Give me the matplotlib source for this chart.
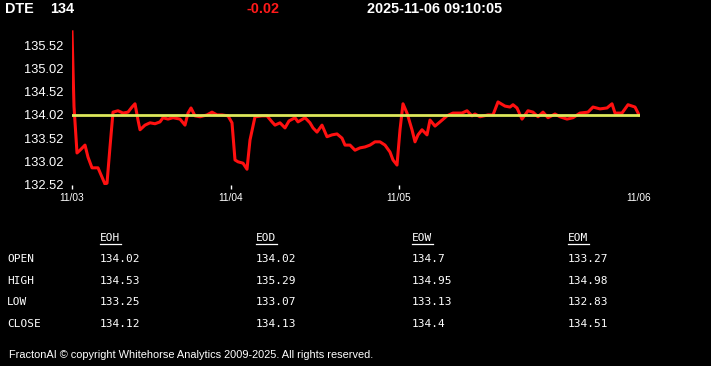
import matplotlib.pyplot as plt
from matplotlib.lines import Line2D

# Price trace (x = position along the session axis, 11/03 = 0, 11/06 = 567)
pos = [0, 2, 5, 8, 13, 16, 20, 26, 30, 33, 35, 38, 41, 46, 51, 56, 60, 63, 66, 68,
       73, 78, 83, 88, 91, 96, 101, 108, 113, 116, 119, 123, 128, 135, 140, 145,
       150, 156, 160, 163, 166, 171, 175, 178, 183, 190, 195, 200, 203, 208, 213,
       217, 223, 226, 233, 238, 241, 245, 250, 255, 260, 265, 270, 273, 278, 283,
       288, 293, 298, 303, 308, 313, 318, 321, 325, 328, 331, 335, 340, 343, 346,
       350, 355, 358, 363, 368, 375, 381, 390, 395, 400, 403, 408, 416, 421, 426,
       433, 438, 441, 445, 450, 456, 461, 466, 471, 476, 483, 488, 495, 501, 508,
       516, 521, 528, 535, 540, 543, 550, 556, 563, 567]
price = [135.81, 134.20, 133.20, 133.26, 133.37, 133.11, 132.88, 132.88, 132.68,
         132.53, 132.55, 133.33, 134.08, 134.11, 134.06, 134.08, 134.19, 134.26,
         133.91, 133.70, 133.80, 133.85, 133.83, 133.87, 133.96, 133.93, 133.96,
         133.93, 133.80, 134.06, 134.17, 134.00, 133.98, 134.02, 134.08, 134.02,
         134.02, 134.00, 133.85, 133.05, 133.01, 132.98, 132.85, 133.48, 133.98,
         134.00, 134.00, 133.87, 133.80, 133.85, 133.74, 133.89, 133.96, 133.87,
         133.96, 133.85, 133.74, 133.65, 133.80, 133.55, 133.59, 133.61, 133.52,
         133.37, 133.37, 133.26, 133.31, 133.33, 133.37, 133.44, 133.44, 133.37,
         133.22, 133.05, 132.94, 133.70, 134.26, 134.06, 133.70, 133.44, 133.59,
         133.70, 133.59, 133.91, 133.78, 133.87, 134.00, 134.06, 134.06, 134.11,
         134.00, 134.04, 133.98, 134.02, 134.02, 134.30, 134.21, 134.19, 134.24,
         134.17, 133.93, 134.11, 134.08, 133.98, 134.08, 133.96, 134.04, 133.98,
         133.93, 133.96, 134.06, 134.08, 134.19, 134.15, 134.17, 134.26, 134.06,
         134.06, 134.24, 134.19, 134.02]
ref_price = 134.02

day_pos = [0, 159, 326.5, 567]
day_labels = ['11/03', '11/04', '11/05', '11/06']
y_ticks = [132.52, 133.02, 133.52, 134.02, 134.52, 135.02, 135.52]

# Header
symbol = 'DTE'
last = '134'
change = '-0.02'
stamp = '2025-11-06 09:10:05'

# OHLC table
periods = ['EOH', 'EOD', 'EOW', 'EOM']
rows = ['OPEN', 'HIGH', 'LOW', 'CLOSE']
table = {
    'EOH': ['134.02', '134.53', '133.25', '134.12'],
    'EOD': ['134.02', '135.29', '133.07', '134.13'],
    'EOW': ['134.7', '134.95', '133.13', '134.4'],
    'EOM': ['133.27', '134.98', '132.83', '134.51'],
}

W, H = 711, 366
fig = plt.figure(figsize=(W / 100, H / 100), dpi=100, facecolor='black')

def fx(px):
    return px / W

def fy(py):
    return 1 - py / H

# Chart axes
ax = fig.add_axes([fx(72), fy(185), fx(640) - fx(72), fy(30) - fy(185)])
ax.set_facecolor('black')
ax.plot(pos, price, color='#ff1010', lw=2.2, solid_joinstyle='round')
ax.plot([0, 567], [ref_price, ref_price], color='#dde85a', lw=2)
ax.set_xlim(0, 568)
ax.set_ylim(132.51, 135.85)
ax.set_yticks(y_ticks)
ax.set_yticklabels(['%.2f' % v for v in y_ticks])
ax.set_xticks(day_pos)
ax.set_xticklabels(day_labels)
for s in ax.spines.values():
    s.set_visible(False)
ax.tick_params(axis='y', length=0, pad=6, labelcolor='white', labelsize=9.3)
ax.tick_params(axis='x', length=3, width=1, color='white', pad=3,
               labelcolor='white', labelsize=7.3)
for lab in ax.get_yticklabels() + ax.get_xticklabels():
    lab.set_family('Liberation Sans')
ax.xaxis.get_major_ticks()[-1].tick1line.set_visible(False)

# Header text
hdr = dict(color='white', fontsize=10.4, fontweight='bold', family='Liberation Sans', va='center')
fig.text(fx(5), fy(9), symbol, **hdr)
fig.text(fx(50), fy(9), last, **hdr)
fig.text(fx(263), fy(9), change, ha='center', **{**hdr, 'color': '#ff1a1a'})
fig.text(fx(367), fy(9), stamp, **hdr)

# Table
mono = dict(color='white', fontsize=8, family='DejaVu Sans Mono', va='center')
col_x = [100, 256, 412, 568]
row_y = [259, 281, 302, 324]
for cx, p in zip(col_x, periods):
    fig.text(fx(cx), fy(238), p, **mono)
    fig.add_artist(Line2D([fx(cx), fx(cx + 21)], [fy(244), fy(244)],
                          color='white', lw=0.9, transform=fig.transFigure))
    for ry, v in zip(row_y, table[p]):
        fig.text(fx(cx), fy(ry), v, **mono)
for ry, r in zip(row_y, rows):
    fig.text(fx(7), fy(ry), r, **mono)

# Footer
fig.text(fx(9), fy(355), 'FractonAI \u00a9 copyright Whitehorse Analytics 2009-2025. All rights reserved.',
         color='white', fontsize=7.9, family='Liberation Sans', va='center')

fig.savefig('out.png', dpi=100, facecolor='black')
